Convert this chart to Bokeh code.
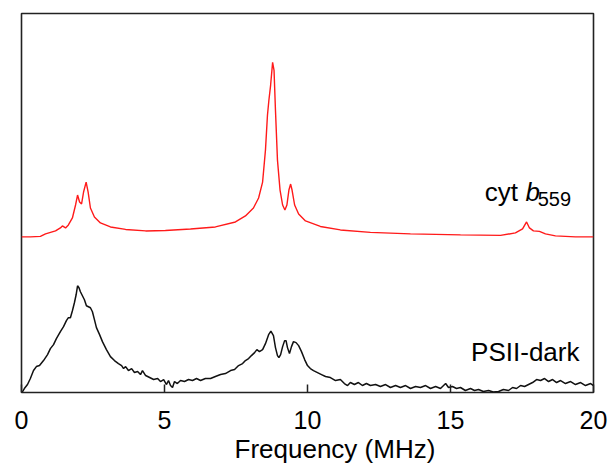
from bokeh.plotting import figure
from bokeh.models import Range1d, Label, FixedTicker, Title
from bokeh.embed import file_html
from bokeh.resources import INLINE

# Frequency (MHz) and intensity (arbitrary units)
red_freq = [0.00, 0.31, 0.66, 0.84, 1.19, 1.36, 1.43, 1.54, 1.64, 1.78, 1.89, 1.96, 2.03, 2.10,
            2.17, 2.26, 2.33, 2.41, 2.55, 2.76, 3.11, 3.64, 4.34, 5.03, 5.91, 6.78, 7.48, 7.83,
            8.11, 8.29, 8.43, 8.53, 8.60, 8.65, 8.71, 8.78, 8.83, 8.88, 8.95, 9.04, 9.13, 9.21,
            9.28, 9.35, 9.41, 9.46, 9.55, 9.69, 9.93, 10.45, 11.15, 12.20, 13.60, 15.35, 16.75,
            17.27, 17.52, 17.66, 17.76, 17.90, 18.11, 18.32, 18.67, 19.37, 20.00]
red_int = [156, 156, 156.5, 159, 162, 165, 167, 165, 168, 175, 188, 198, 191, 189,
           201, 211, 201, 185, 176, 170, 166, 163.5, 162, 162.5, 164, 166, 171, 177,
           185, 195, 211, 243, 278, 293, 308, 331, 323, 283, 233, 203, 188, 183,
           188, 203, 209, 203, 188, 179, 172, 166.5, 163, 160.5, 159, 158, 157.5,
           160, 164, 171, 165, 162, 161.5, 159, 157, 156, 156]

black_freq = [0.02, 0.10, 0.21, 0.31, 0.42, 0.52, 0.63, 0.77, 0.91, 1.01, 1.12, 1.22, 1.36, 1.47,
              1.57, 1.64, 1.71, 1.78, 1.85, 1.91, 1.96, 2.01, 2.06, 2.13, 2.20, 2.27, 2.34, 2.41,
              2.48, 2.55, 2.62, 2.73, 2.83, 2.97, 3.11, 3.25, 3.39, 3.50, 3.57, 3.64, 3.74, 3.85,
              3.95, 4.06, 4.16, 4.23, 4.34, 4.48, 4.62, 4.76, 4.86, 4.97, 5.07, 5.14, 5.21, 5.28,
              5.35, 5.45, 5.56, 5.70, 5.84, 5.98, 6.12, 6.26, 6.43, 6.61, 6.78, 6.96, 7.13, 7.31,
              7.45, 7.59, 7.73, 7.83, 7.94, 8.04, 8.15, 8.23, 8.32, 8.43, 8.53, 8.64, 8.72, 8.81,
              8.88, 8.95, 9.00, 9.06, 9.13, 9.20, 9.25, 9.30, 9.37, 9.44, 9.51, 9.60, 9.69, 9.79,
              9.90, 10.00, 10.10, 10.21, 10.35, 10.49, 10.63, 10.80, 10.98, 11.15, 11.29, 11.40,
              11.50, 11.64, 11.78, 11.92, 12.06, 12.20, 12.38, 12.55, 12.73, 12.90, 13.08, 13.25,
              13.43, 13.60, 13.78, 13.95, 14.13, 14.30, 14.48, 14.65, 14.83, 14.93, 15.07, 15.21,
              15.35, 15.52, 15.70, 15.84, 15.98, 16.15, 16.33, 16.50, 16.68, 16.85, 17.03, 17.17,
              17.31, 17.45, 17.59, 17.73, 17.87, 18.01, 18.15, 18.29, 18.43, 18.57, 18.71, 18.85,
              19.02, 19.20, 19.37, 19.55, 19.72, 19.90, 20.00]
black_int = [0, 4, 8, 14, 22, 26, 27, 32, 38, 44, 48, 54, 61, 66,
             72, 75, 75, 82, 90, 98, 107, 105, 101, 97, 93, 87, 86, 85,
             81, 73, 65, 58, 51, 43, 36, 32, 29, 27, 24, 26, 22, 24,
             20, 21, 18, 22, 17, 15, 13, 14, 11, 13, 8, 12, 7, 5,
             11, 9, 12, 11, 13, 12, 14, 12, 14, 14, 16, 18, 19, 22,
             23, 27, 29, 32, 34, 37, 40, 43, 41, 43, 49, 58, 61.5, 57,
             45, 37, 35, 38, 46, 52, 52, 45, 39, 46, 51, 50, 47, 41,
             33, 27, 24, 22, 20, 18, 16, 15, 12, 13, 9, 7,
             10, 8, 10, 7, 9, 7, 8, 6, 8, 5, 7, 5,
             7, 4, 6, 5, 7, 4, 6, 4, 9, 5, 6, 4,
             5, 2, 4, 2, 3, 1, 2, 0.5, 1, 3, 2, 5,
             4, 7, 6, 8, 10, 13, 12, 14, 11, 13, 10, 12,
             9, 11, 8, 10, 7, 9, 7]

x_ticks = [0, 5, 10, 15, 20]
x_title = "Frequency (MHz)"
label_red = ["cyt ", "b", "559"]
label_black = "PSII-dark"

FONT = "Liberation Sans"

p = figure(width=608, height=463, output_backend="svg", toolbar_location=None,
           x_range=Range1d(0, 20), y_range=Range1d(0, 380),
           min_border_left=21, min_border_right=15, min_border_top=13, min_border_bottom=70)
p.background_fill_color = "white"
p.border_fill_color = "white"
p.grid.visible = False
p.yaxis.visible = False
p.outline_line_color = "#222222"
p.outline_line_width = 1.6

ax = p.xaxis[0]
ax.ticker = FixedTicker(ticks=x_ticks)
ax.minor_tick_line_color = None
ax.major_tick_in = 8
ax.major_tick_out = 0
ax.major_tick_line_color = "#222222"
ax.major_tick_line_width = 1.5
ax.axis_line_color = None
ax.major_label_text_font = FONT
ax.major_label_text_font_size = "25px"
ax.major_label_text_color = "black"
ax.major_label_standoff = 18

p.line(red_freq, red_int, line_color="#ff1a1a", line_width=1.4)
p.line(black_freq, black_int, line_color="#111111", line_width=1.5)

# axis title, placed right of the frame centre as in the original
p.add_layout(Title(text=x_title, align="left", offset=213, text_font=FONT,
                   text_font_size="26px", text_font_style="normal", text_color="black",
                   standoff=0), "below")

p.add_layout(Label(x=16.2, y=201, text=label_red[0], text_font=FONT, text_font_size="26px",
                   text_color="black", text_baseline="alphabetic"))
p.add_layout(Label(x=17.62, y=201, text=label_red[1], text_font=FONT, text_font_size="26px",
                   text_font_style="italic", text_color="black", text_baseline="alphabetic"))
p.add_layout(Label(x=18.05, y=194, text=label_red[2], text_font=FONT, text_font_size="20px",
                   text_color="black", text_baseline="alphabetic"))
p.add_layout(Label(x=15.72, y=41, text=label_black, text_font=FONT, text_font_size="26px",
                   text_color="black", text_baseline="alphabetic"))

open("out.html", "w").write(file_html(p, INLINE))
